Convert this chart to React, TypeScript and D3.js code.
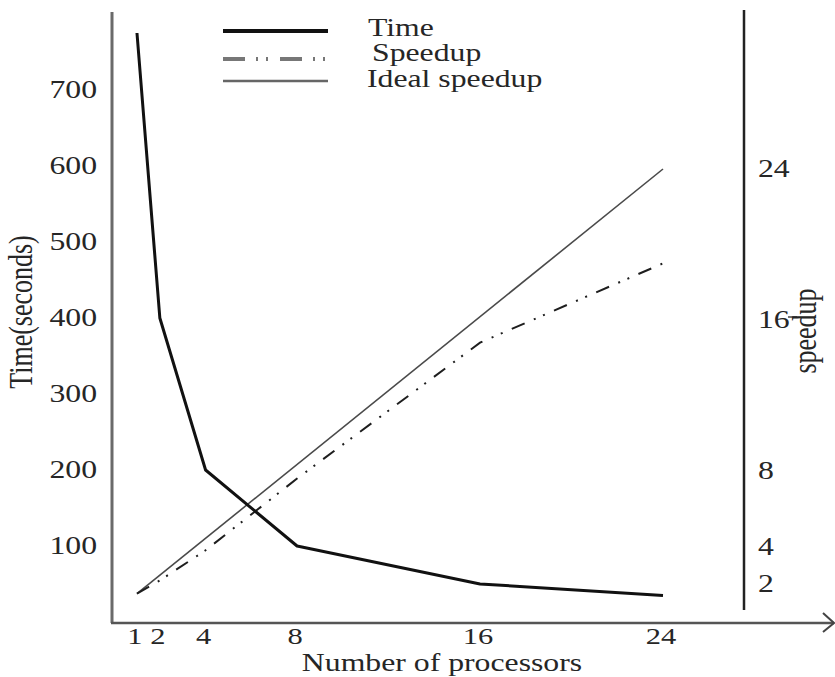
import React, { useEffect, useRef } from 'react';
import * as d3 from 'd3';

// Data
const processors = [1, 2, 4, 8, 16, 24];
const timeValues = [775, 400, 200, 100, 50, 35];
const speedupValues = [1.5, 2.2, 3.8, 7.6, 14.8, 19];
const idealProcessors = [1, 24];
const idealValues = [1.5, 24];
const timeTicks = [100, 200, 300, 400, 500, 600, 700];
const speedupTicks = [2, 4, 8, 16, 24];
const xTicks = [1, 2, 4, 8, 16, 24];
const legendLabels = ['Time', 'Speedup', 'Ideal speedup'];

const FONT = '"Liberation Serif", "DejaVu Serif", serif';
const STRETCH = 1.27;

const App = () => {
  const svgRef = useRef<SVGSVGElement | null>(null);

  useEffect(() => {
    const width = 835;
    const height = 677;
    const svg = d3.select(svgRef.current)
      .attr('width', width)
      .attr('height', height);
    svg.selectAll('*').remove();

    // Scales
    const xScale = d3.scaleLinear().domain([0, 24]).range([114.1, 663]);
    const yTime = d3.scaleLinear().domain([0, 800]).range([622, 14]);
    const ySpeed = d3.scaleLinear().domain([0, 24]).range([622, 169]);

    const stretchText = (x: number, y: number, txt: string, anchor: string, size = 25) =>
      svg.append('text')
        .attr('transform', `translate(${x},${y}) scale(${STRETCH},1)`)
        .attr('text-anchor', anchor)
        .style('font-family', FONT)
        .style('font-size', `${size}px`)
        .style('fill', '#262626')
        .text(txt);

    // Axes
    svg.append('line')
      .attr('x1', 112).attr('x2', 112)
      .attr('y1', 12).attr('y2', 623)
      .style('stroke', '#6a6a6a').style('stroke-width', 3);

    svg.append('line')
      .attr('x1', 111).attr('x2', 834)
      .attr('y1', 623).attr('y2', 623)
      .style('stroke', '#555').style('stroke-width', 2.5);

    svg.append('path')
      .attr('d', 'M823,613 L834,623 L823,632')
      .attr('fill', 'none')
      .style('stroke', '#444').style('stroke-width', 2);

    svg.append('line')
      .attr('x1', 744).attr('x2', 744)
      .attr('y1', 10).attr('y2', 610)
      .style('stroke', '#222').style('stroke-width', 2.5);

    // small tick next to 16 on the right axis
    svg.append('line')
      .attr('x1', 788).attr('x2', 797)
      .attr('y1', ySpeed(16) - 3).attr('y2', ySpeed(16) - 3)
      .style('stroke', '#444').style('stroke-width', 1.5);

    // Tick labels
    timeTicks.forEach(t => stretchText(97, yTime(t) + 8, String(t), 'end'));
    speedupTicks.forEach(t => stretchText(758, ySpeed(t) + 8, String(t), 'start'));
    xTicks.forEach(t => stretchText(xScale(t) - 2, 644, String(t), 'middle', 24));

    // Axis titles
    stretchText(442, 671, 'Number of processors', 'middle');

    svg.append('text')
      .attr('transform', `translate(32,312) rotate(-90) scale(1,${STRETCH})`)
      .attr('text-anchor', 'middle')
      .style('font-family', FONT)
      .style('font-size', '26px')
      .style('fill', '#262626')
      .text('Time(seconds)');

    svg.append('text')
      .attr('transform', `translate(816,331) rotate(-90) scale(1,${STRETCH})`)
      .attr('text-anchor', 'middle')
      .style('font-family', FONT)
      .style('font-size', '26px')
      .style('fill', '#262626')
      .text('speedup');

    // Lines
    const idealLine = d3.line<number>()
      .x((d, i) => xScale(idealProcessors[i]))
      .y(d => ySpeed(d));

    svg.append('path')
      .datum(idealValues)
      .attr('fill', 'none')
      .attr('stroke', '#4a4a4a')
      .attr('stroke-width', 1.6)
      .attr('d', idealLine);

    const speedLine = d3.line<number>()
      .x((d, i) => xScale(processors[i]))
      .y(d => ySpeed(d));

    svg.append('path')
      .datum(speedupValues)
      .attr('fill', 'none')
      .attr('stroke', '#1e1e1e')
      .attr('stroke-width', 2)
      .attr('stroke-dasharray', '14,10,2,8,2,10')
      .attr('d', speedLine);

    const timeLine = d3.line<number>()
      .x((d, i) => xScale(processors[i]))
      .y(d => yTime(d));

    svg.append('path')
      .datum(timeValues)
      .attr('fill', 'none')
      .attr('stroke', '#111')
      .attr('stroke-width', 3)
      .attr('stroke-linejoin', 'round')
      .attr('d', timeLine);

    // Legend
    const legendY = [31, 59, 81];
    const legendStyles = [
      { stroke: '#111', width: 4, dash: null },
      { stroke: '#777', width: 4, dash: '22,11,2,8,2,12' },
      { stroke: '#666', width: 2.5, dash: null },
    ];
    const labelX = [368, 372, 367];
    const labelY = [36, 61, 87];
    legendLabels.forEach((lab, i) => {
      const ln = svg.append('line')
        .attr('x1', 223).attr('x2', 328)
        .attr('y1', legendY[i]).attr('y2', legendY[i])
        .style('stroke', legendStyles[i].stroke)
        .style('stroke-width', legendStyles[i].width);
      if (legendStyles[i].dash) ln.style('stroke-dasharray', legendStyles[i].dash as string);
      stretchText(labelX[i], labelY[i], lab, 'start');
    });
  }, []);

  return (
    <svg ref={svgRef} style={{ position: 'absolute', left: 0, top: 0, background: '#fff' }}></svg>
  );
};

export default App;
